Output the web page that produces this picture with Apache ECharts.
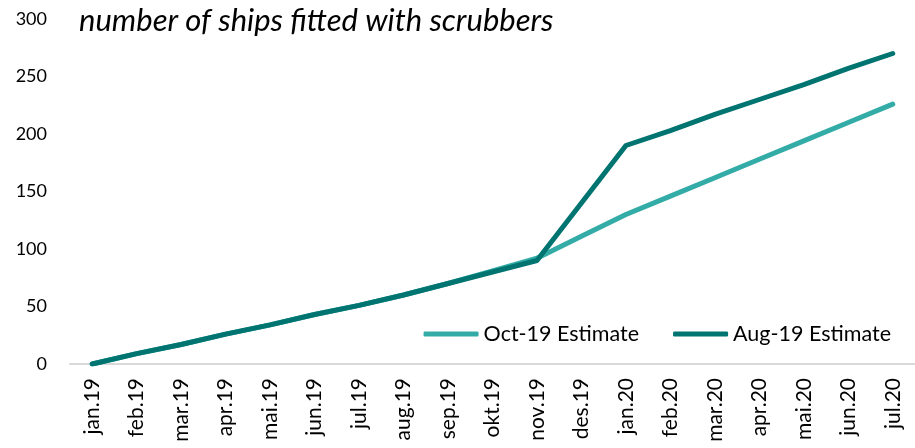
<!DOCTYPE html>
<html><head><meta charset="utf-8">
<script src="https://cdn.jsdelivr.net/npm/echarts@6/dist/echarts.min.js"></script>
<style>html,body{margin:0;padding:0;background:#fff}#c{width:915px;height:448px}</style>
</head><body><div id="c"></div>
<script>
const categories = ['jan.19','feb.19','mar.19','apr.19','mai.19','jun.19','jul.19','aug.19','sep.19','okt.19','nov.19','des.19','jan.20','feb.20','mar.20','apr.20','mai.20','jun.20','jul.20'];
const oct19 = [0, 9, 17, 26, 34, 43, 51, 60, 70, 81, 92, 111, 130, 146, 162, 178, 194, 210, 226];
const aug19 = [0, 9, 17, 26, 34, 43, 51, 60, 70, 80, 90, 140, 190, 203, 217, 230, 243, 257, 270];
const yTicks = [0, 50, 100, 150, 200, 250, 300];
const titleText = 'number of ships fitted with scrubbers';
const seriesNames = ['Oct-19 Estimate', 'Aug-19 Estimate'];

const font = 'Lato, "Open Sans", sans-serif';
const chart = echarts.init(document.getElementById('c'), null, {renderer: 'canvas'});
chart.setOption({
  animation: false,
  title: {text: titleText, left: 74, top: 0, textStyle: {fontFamily: 'Lato, sans-serif', fontStyle: 'italic', fontWeight: 'normal', fontSize: 31, color: '#000'}},
  legend: {
    right: 19, top: 318, itemWidth: 55, itemHeight: 5, itemGap: 34,
    icon: 'roundRect',
    textStyle: {fontFamily: font, fontSize: 21.5, color: '#000', padding: [0, 0, 0, 0]},
    data: seriesNames
  },
  grid: {left: 70, right: 0, top: 19, bottom: 84},
  xAxis: {
    type: 'category', data: categories, boundaryGap: true,
    axisLine: {lineStyle: {color: '#d9d9d9', width: 2}},
    axisTick: {show: false},
    axisLabel: {rotate: 90, fontFamily: font, fontSize: 21, color: '#000', margin: 14}
  },
  yAxis: {
    type: 'value', min: yTicks[0], max: yTicks[yTicks.length-1], interval: 50,
    axisLine: {show: false}, axisTick: {show: false}, splitLine: {show: false},
    axisLabel: {fontFamily: font, fontSize: 18, color: '#000', margin: 23}
  },
  series: [
    {name: seriesNames[0], type: 'line', data: oct19, symbol: 'none', lineStyle: {color: '#33aca7', width: 5, cap: 'round', join: 'round'}, itemStyle: {color: '#33aca7'}},
    {name: seriesNames[1], type: 'line', data: aug19, symbol: 'none', lineStyle: {color: '#007470', width: 5, cap: 'round', join: 'round'}, itemStyle: {color: '#007470'}}
  ]
});
</script></body></html>
